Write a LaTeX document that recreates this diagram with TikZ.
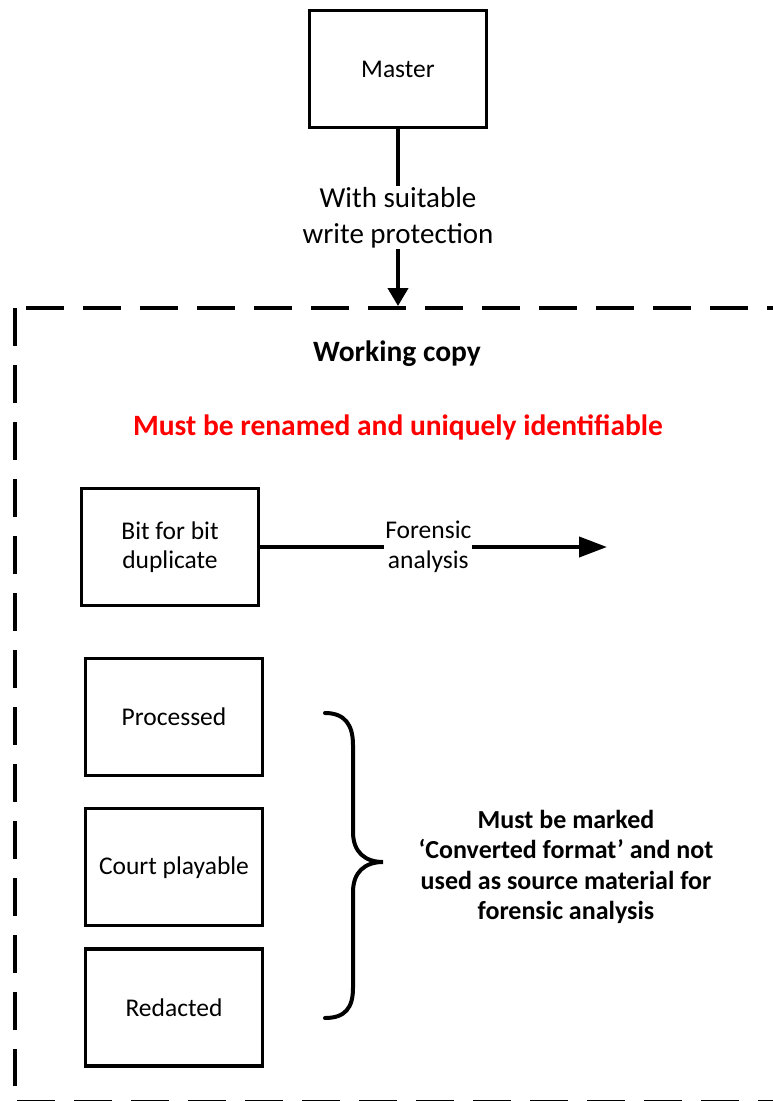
\documentclass[tikz,border=0pt]{standalone}
\usepackage{fontspec}
\setmainfont{Carlito}
\usetikzlibrary{arrows.meta, positioning}

\begin{document}
\begin{tikzpicture}
  [x=1pt, y=-1pt,
    >={Triangle[length=18pt, width=20pt]},
    node distance=30pt and 60pt]

  \tikzset{
    base/.style={
      align=center,
      font=\fontsize{25.5}{29.5}\selectfont,
    },
    item/.style={base,
      rectangle,
      draw=black, line width=3.2pt,
      minimum width=177pt, minimum height=117pt,
    },
    linktext/.style={base,
      fill=white, inner sep=1pt,
    },
    note/.style={base,
      font=\bfseries\fontsize{26}{30.3}\selectfont,
    },
    heading/.style={base,
      font=\bfseries\fontsize{29.5}{34}\selectfont,
    },
    flow/.style={->, draw, line width=4pt},
    frame/.style={draw, line width=4.3pt, dash pattern=on 38pt off 19pt},
  }

  \useasboundingbox (0,0) rectangle (772,1101);

  % working copy area
  \draw[frame] (26,308) -- (800,308);
  \draw[frame] (15,308) -- (15,1086);
  \draw[frame] (17,1102.5) -- (800,1102.5);

  \node[item] (master) at (398,69) {Master};
  \coordinate (entry) at (398,306);
  \draw[flow] (master) -- node[linktext, font=\fontsize{29}{36}\selectfont]
    {With suitable\\write protection} (entry);

  \node[heading] (title) at (397,354) {Working copy};
  \node[heading, text=red] (rule) at (398,427)
    {Must be renamed and uniquely identifiable};

  \node[item] (dup) at (170,547) {Bit for bit\\duplicate};
  \coordinate (out) at (607,547);
  \draw[flow, -{Triangle[length=28pt, width=20pt]}] (dup) --
    node[linktext, pos=0.485] {Forensic\\analysis} (out);

  \node[item] (proc) at (174,717) {Processed};
  \node[item, below=30pt of proc] (court) {Court playable};
  \node[item, below=20pt of court] (redact) {Redacted};

  % brace round the converted copies
  \coordinate (btop) at (325,713);
  \coordinate (btip) at (383,862);
  \coordinate (bbot) at (325,1018);
  \draw[line width=4pt, line cap=round]
    (btop) .. controls (345,713) and (353,725) .. (353,745) -- (353,832)
    .. controls (353,852) and (365,862) .. (btip)
    .. controls (365,862) and (353,872) .. (353,892) -- (353,988)
    .. controls (353,1008) and (345,1018) .. (bbot);

  \node[note] (conv) at (566,867)
    {Must be marked\\‘Converted format’ and not\\used as source material for\\forensic analysis};
\end{tikzpicture}
\end{document}
